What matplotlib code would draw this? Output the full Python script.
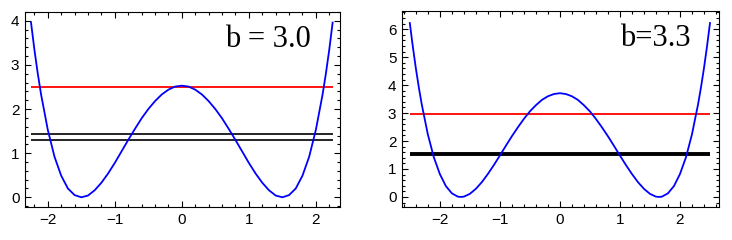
import matplotlib
matplotlib.use("Agg")
import matplotlib.pyplot as plt
from matplotlib.ticker import MultipleLocator

# valores: b = 3.0
x_b30 = [-2.25, -2.2, -2.15, -2.1, -2.0, -1.9, -1.8, -1.7, -1.6, -1.5, -1.4, -1.3, -1.2, -1.1,
         -1.0, -0.9, -0.8, -0.7, -0.6, -0.5, -0.4, -0.3, -0.2, -0.1, 0.0,
         0.1, 0.2, 0.3, 0.4, 0.5, 0.6, 0.7, 0.8, 0.9, 1.0,
         1.1, 1.2, 1.3, 1.4, 1.5, 1.6, 1.7, 1.8, 1.9, 2.0, 2.1, 2.15, 2.2, 2.25]
y_b30 = [3.96, 3.35, 2.81, 2.33, 1.53, 0.92, 0.49, 0.20, 0.05, 0.00, 0.04, 0.16, 0.33, 0.54,
         0.78, 1.04, 1.30, 1.55, 1.79, 2.00, 2.18, 2.33, 2.44, 2.51, 2.53,
         2.51, 2.44, 2.33, 2.18, 2.00, 1.79, 1.55, 1.30, 1.04, 0.78,
         0.54, 0.33, 0.16, 0.04, 0.00, 0.05, 0.20, 0.49, 0.92, 1.53, 2.33, 2.81, 3.35, 3.96]
rojo_b30 = 2.50
negras_b30 = [1.43, 1.29]

# valores: b = 3.3
x_b33 = [-2.5, -2.45, -2.4, -2.35, -2.3, -2.2, -2.1, -2.0, -1.9, -1.8, -1.7, -1.65, -1.6, -1.5,
         -1.4, -1.3, -1.2, -1.1, -1.0, -0.9, -0.8, -0.7, -0.6, -0.5, -0.4, -0.3, -0.2, -0.1, 0.0,
         0.1, 0.2, 0.3, 0.4, 0.5, 0.6, 0.7, 0.8, 0.9, 1.0, 1.1, 1.2, 1.3, 1.4,
         1.5, 1.6, 1.65, 1.7, 1.8, 1.9, 2.0, 2.1, 2.2, 2.3, 2.35, 2.4, 2.45, 2.5]
y_b33 = [6.22, 5.38, 4.61, 3.92, 3.30, 2.24, 1.42, 0.82, 0.39, 0.13, 0.01, 0.00, 0.01, 0.11,
         0.29, 0.53, 0.82, 1.14, 1.48, 1.83, 2.17, 2.49, 2.79, 3.06, 3.28, 3.47, 3.60, 3.68, 3.71,
         3.68, 3.60, 3.47, 3.28, 3.06, 2.79, 2.49, 2.17, 1.83, 1.48, 1.14, 0.82, 0.53, 0.29,
         0.11, 0.01, 0.00, 0.01, 0.13, 0.39, 0.82, 1.42, 2.24, 3.30, 3.92, 4.61, 5.38, 6.22]
rojo_b33 = 2.95
negras_b33 = [1.55]

plt.rcParams['font.family'] = ['Liberation Sans', 'DejaVu Sans']

fig = plt.figure(figsize=(7.32, 2.4), dpi=100)
ax1 = fig.add_axes([25 / 732, 33 / 240, 315 / 732, 195 / 240])
ax2 = fig.add_axes([402 / 732, 33 / 240, 317 / 732, 196 / 240])


def panel(ax, x, y, rojo, negras, lw_negra, titulo, xlim, ylim, tx):
    ax.plot(x, y, color='#0000ff', lw=1.3, zorder=3)
    ax.hlines(rojo, x[0], x[-1], color='#ff0000', lw=1.3, zorder=2)
    for n in negras:
        ax.hlines(n, x[0], x[-1], color='black', lw=lw_negra, zorder=2)
    ax.set_xlim(*xlim)
    ax.set_ylim(*ylim)
    ax.xaxis.set_major_locator(MultipleLocator(1))
    ax.xaxis.set_minor_locator(MultipleLocator(0.2))
    ax.yaxis.set_major_locator(MultipleLocator(1))
    ax.yaxis.set_minor_locator(MultipleLocator(0.2))
    ax.tick_params(which='both', direction='in', top=True, right=True, width=0.8,
                   labelsize=11, pad=4)
    ax.tick_params(which='major', length=4)
    ax.tick_params(which='minor', length=2)
    for s in ax.spines.values():
        s.set_linewidth(0.8)
    ax.text(tx, 0.86, titulo, transform=ax.transAxes, ha='center', va='center',
            fontsize=22, family=['Liberation Serif', 'DejaVu Serif'])


panel(ax1, x_b30, y_b30, rojo_b30, negras_b30, 1.2, 'b = 3.0',
      (-2.34, 2.36), (-0.22, 4.2), 0.77)
panel(ax2, x_b33, y_b33, rojo_b33, negras_b33, 2.8, 'b=3.3',
      (-2.63, 2.65), (-0.36, 6.65), 0.80)

fig.savefig('out.png', dpi=100)
